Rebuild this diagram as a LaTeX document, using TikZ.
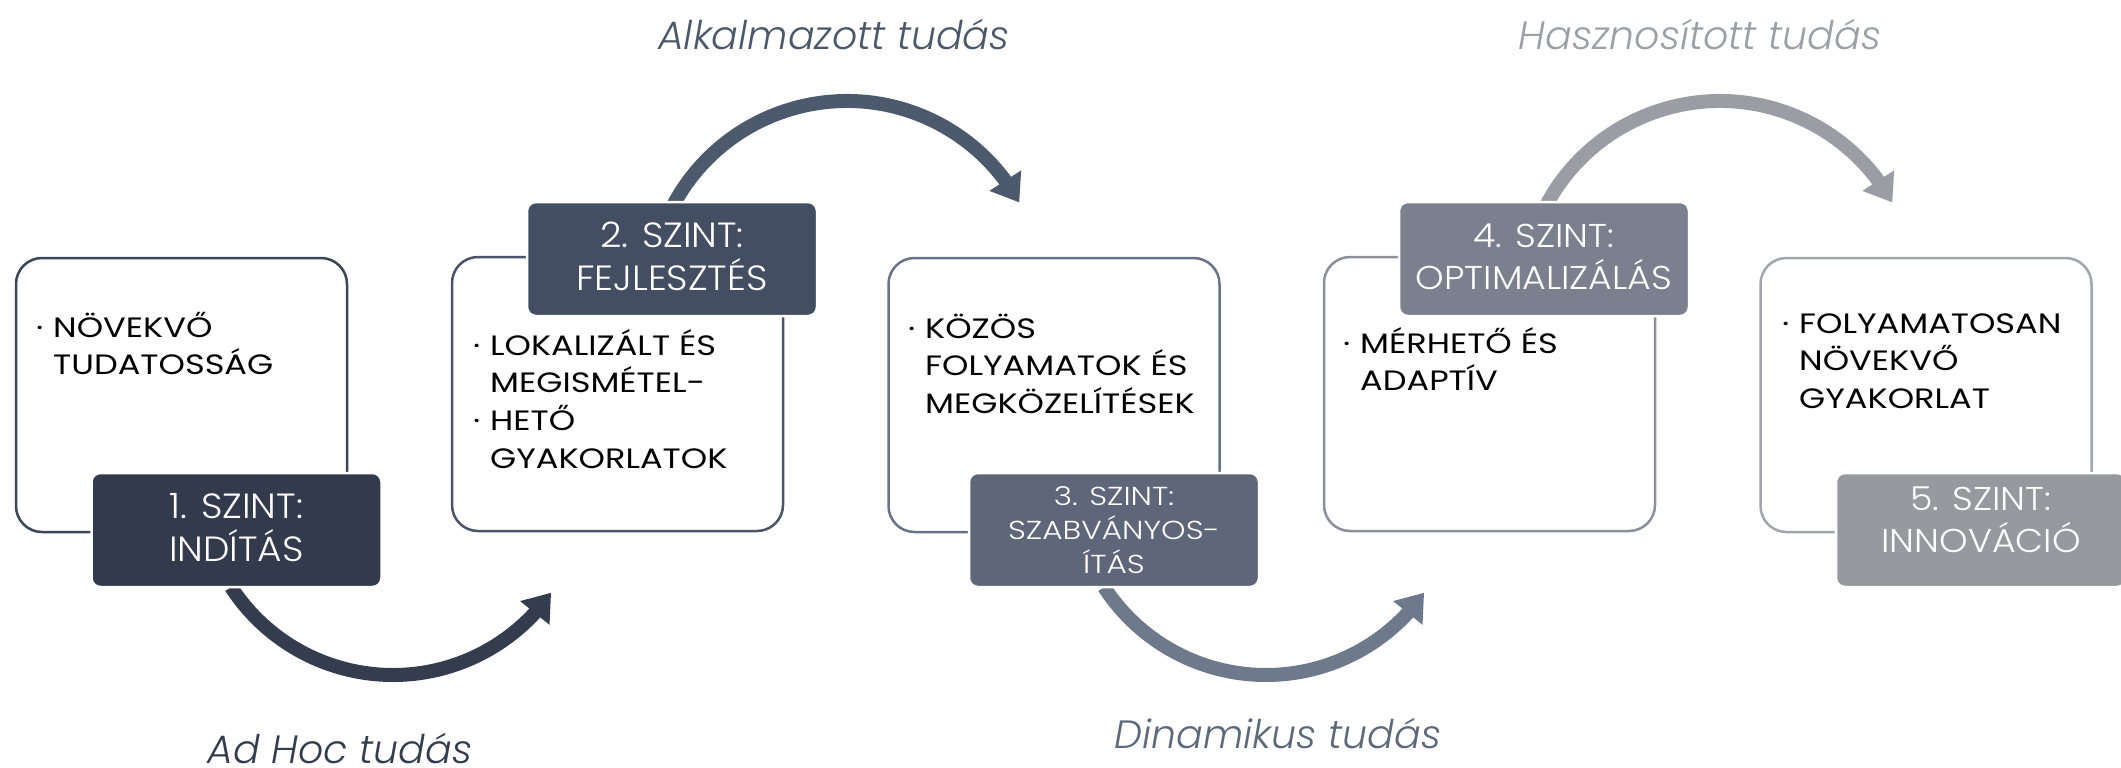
\documentclass[tikz,border=0pt]{standalone}
\usepackage{fontspec}
\setmainfont{Poppins}
\newfontfamily\bodyfont[FakeStretch=1.2]{Poppins}
\newfontfamily\labfontA[FakeStretch=1.07]{Poppins Light}
\newfontfamily\labfontB[FakeStretch=1.1]{Poppins Light}
\newfontfamily\labfontC[FakeStretch=1.2]{Poppins Light}
\newfontfamily\kindfont{Poppins Light}
\usetikzlibrary{arrows.meta,bending}
\definecolor{f1}{HTML}{323B4C}
\definecolor{f2}{HTML}{444E62}
\definecolor{f3}{HTML}{5E677A}
\definecolor{f4}{HTML}{7B808E}
\definecolor{f5}{HTML}{98999E}
\definecolor{o1}{HTML}{3C4657}
\definecolor{o2}{HTML}{4A546A}
\definecolor{o3}{HTML}{68738A}
\definecolor{o4}{HTML}{8B909B}
\definecolor{o5}{HTML}{A3A5AA}
\definecolor{a1}{HTML}{333D4E}
\definecolor{a2}{HTML}{4D596C}
\definecolor{a3}{HTML}{6E7A8B}
\definecolor{a4}{HTML}{9A9DA3}
\definecolor{t1}{HTML}{333D4E}
\definecolor{t2}{HTML}{4B576A}
\definecolor{t3}{HTML}{5E687B}
\definecolor{t4}{HTML}{9D9FA5}
\begin{document}
\begin{tikzpicture}[x=1pt,y=-1pt,
  outbox/.style={draw=#1, line width=2.5pt, rounded corners=26pt, minimum width=331pt, minimum height=274pt, inner sep=0pt},
  labbox/.style={fill=#1, draw=white, line width=2.5pt, rounded corners=9pt, minimum width=290pt, minimum height=114pt, inner sep=0pt},
  labtext/.style={anchor=base, text=white, inner sep=0pt},
  bodytext/.style={anchor=base west, text=black, inner sep=0pt, font=\bodyfont\fontsize{28}{37.7}\selectfont},
  arrowarc/.style={draw=#1, line width=14pt, -{Triangle[length=26pt,width=36pt]}},
  kind/.style={anchor=base, text=#1, inner sep=0pt, font=\kindfont\fontsize{39.5}{42}\selectfont\itshape}
]
\useasboundingbox (0,0) rectangle (2121,768);
\fill[white] (0,0) rectangle (2121,768);

% outline boxes
\node[outbox=o1] (b1) at (181.5,395) {};
\node[outbox=o2] (b2) at (617.5,394) {};
\node[outbox=o3] (b3) at (1054,395) {};
\node[outbox=o4] (b4) at (1489.5,394) {};
\node[outbox=o5] (b5) at (1926,395) {};

% arcs
\coordinate (c1) at (393,482);
\coordinate (c2) at (847,298);
\coordinate (c3) at (1266,482);
\coordinate (c4) at (1720,298);
\draw[arrowarc=a1] (c1) ++(147:193) arc[start angle=147, end angle=35, radius=193];
\draw[arrowarc=a2] (c2) ++(208:197) arc[start angle=208, end angle=331, radius=197];
\draw[arrowarc=a3] (c3) ++(147:193) arc[start angle=147, end angle=35, radius=193];
\draw[arrowarc=a4] (c4) ++(208:197) arc[start angle=208, end angle=331, radius=197];

% label boxes
\node[labbox=f1] (l1) at (236.5,530) {};
\node[labbox=f2] (l2) at (672,259) {};
\node[labbox=f3] (l3) at (1114,530) {};
\node[labbox=f4] (l4) at (1544,259) {};
\node[labbox=f5] (l5) at (1981,530) {};

\node[labtext, font=\labfontA\fontsize{35}{40}\selectfont] (lt1) at (236.5,518) {\begin{tabular}[t]{@{}c@{}}1. SZINT:\\INDÍTÁS\end{tabular}};
\node[labtext, font=\labfontA\fontsize{35}{40}\selectfont] (lt2) at (672,247) {\begin{tabular}[t]{@{}c@{}}2. SZINT:\\FEJLESZTÉS\end{tabular}};
\node[labtext, font=\labfontC\fontsize{26}{34}\selectfont] (lt3) at (1114,505) {\begin{tabular}[t]{@{}c@{}}3. SZINT:\\SZABVÁNYOS-\\ÍTÁS\end{tabular}};
\node[labtext, font=\labfontB\fontsize{33}{40}\selectfont] (lt4) at (1544,247) {\begin{tabular}[t]{@{}c@{}}4. SZINT:\\OPTIMALIZÁLÁS\end{tabular}};
\node[labtext, font=\labfontB\fontsize{33}{40}\selectfont] (lt5) at (1981,510) {\begin{tabular}[t]{@{}c@{}}5. SZINT:\\INNOVÁCIÓ\end{tabular}};

% body texts
\node[bodytext] (x1) at (53,337) {\begin{tabular}[t]{@{}l@{}}\llap{·\hspace{10pt}}NÖVEKVŐ\\TUDATOSSÁG\end{tabular}};
\node[bodytext] (x2) at (490,355) {\begin{tabular}[t]{@{}l@{}}\llap{·\hspace{10pt}}LOKALIZÁLT ÉS\\MEGISMÉTEL-\\\llap{·\hspace{10pt}}HETŐ\\GYAKORLATOK\end{tabular}};
\node[bodytext] (x3) at (925,338) {\begin{tabular}[t]{@{}l@{}}\llap{·\hspace{10pt}}KÖZÖS\\FOLYAMATOK ÉS\\MEGKÖZELÍTÉSEK\end{tabular}};
\node[bodytext] (x4) at (1360,353) {\begin{tabular}[t]{@{}l@{}}\llap{·\hspace{10pt}}MÉRHETŐ ÉS\\ADAPTÍV\end{tabular}};
\node[bodytext] (x5) at (1799,333) {\begin{tabular}[t]{@{}l@{}}\llap{·\hspace{10pt}}FOLYAMATOSAN\\NÖVEKVŐ\\GYAKORLAT\end{tabular}};

% knowledge labels
\node[kind=t2] (k2) at (834,50) {Alkalmazott tudás};
\node[kind=t4] (k4) at (1700,50) {Hasznosított tudás};
\node[kind=t1] (k1) at (340,763) {Ad Hoc tudás};
\node[kind=t3] (k3) at (1278,748) {Dinamikus tudás};
\end{tikzpicture}
\end{document}
